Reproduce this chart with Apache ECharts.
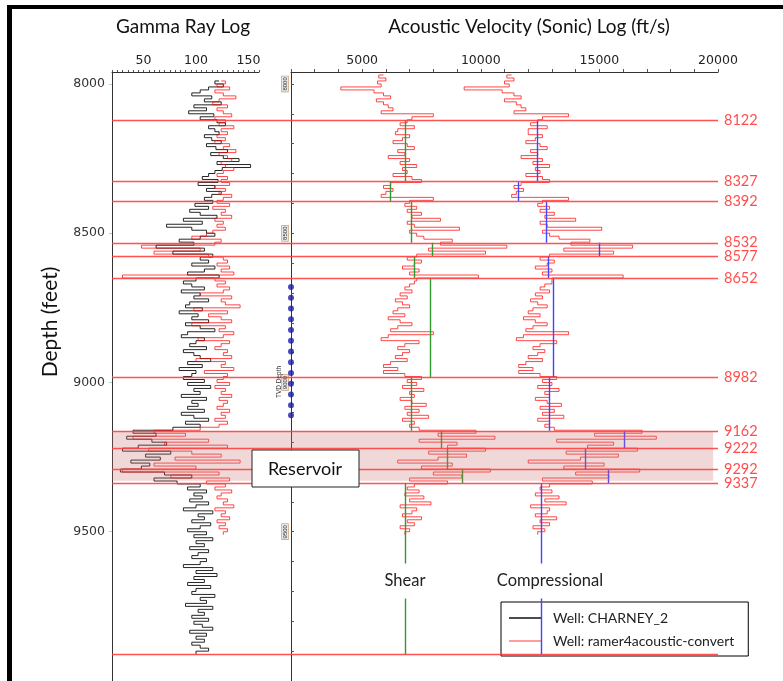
<!DOCTYPE html>
<html><head><meta charset="utf-8">
<script src="https://cdn.jsdelivr.net/npm/echarts@6/dist/echarts.min.js"></script>
<style>html,body{margin:0;padding:0;background:#fff}#c{width:783px;height:681px}</style>
</head><body><div id="c"></div><script>
// ---- data ----
const depthStep = 10;
const gammaStart = 7990;
const gammaBlack = [
122,118,126,112,104,96,115,108,124,98,
110,93,117,104,120,128,112,118,122,108,
115,124,110,119,130,114,126,141,120,152,
125,118,112,106,121,102,118,110,124,115,
108,116,99,112,94,104,120,88,106,72,
96,110,118,104,84,98,62,108,78,116,
104,112,96,118,108,92,122,100,88,96,
108,86,104,98,112,94,90,106,84,102,
96,112,90,104,118,92,86,108,100,94,
110,88,98,104,114,92,106,84,100,96,
88,108,92,114,98,104,86,110,96,102,
92,108,86,98,112,90,104,78,40,62,
34,58,72,45,30,76,52,66,38,56,
48,28,70,96,60,82,104,92,110,98,
106,94,112,100,88,116,102,108,96,114,
104,92,110,98,116,100,108,94,112,102,
96,110,104,88,116,100,120,98,108,92,
114,100,96,118,104,110,90,116,102,108,
96,112,98,106,116,94,110,100,108,96,
104,112,100];
const gammaRed = [
124,128,120,132,118,126,138,122,116,130,
120,126,134,118,128,122,136,124,130,120,
128,118,132,126,138,122,130,134,124,128,
136,126,120,130,124,132,118,128,122,134,
126,120,132,116,128,124,134,118,126,120,
128,116,110,96,124,118,48,104,60,112,
126,130,120,132,124,136,30,118,128,120,
132,126,104,134,124,128,142,98,130,112,
124,134,96,128,122,136,126,102,132,124,
118,130,126,134,100,128,124,136,108,130,
126,120,132,118,128,124,134,122,130,126,
120,132,124,128,118,130,122,104,60,90,
40,112,70,130,55,96,124,80,142,60,
100,30,122,76,132,110,128,118,134,124,
120,130,126,136,118,128,124,132,120,128,
122,130,126];
const sonicStart = 7970;
const shearVel = [
5900,5700,6000,5650,5800,4100,5500,5900,6200,5600,
5900,6100,6300,5800,8000,7100,6900,6600,7200,6500,
6400,7000,6700,6300,6900,7200,6500,6800,6100,7000,
6600,7300,6700,6900,6300,7100,7500,6200,5900,6300,
6000,5800,8000,7000,6800,7300,6900,7500,7100,8300,
6900,7200,9100,7000,7300,7600,8800,8300,11100,7800,
10200,7300,6900,7500,7200,6700,7400,7000,9900,7300,
7200,7000,6800,7100,6600,6900,6400,6700,7000,6500,
6300,6800,6100,6600,7100,6500,6200,8000,6100,5800,
7400,6800,6500,7000,6700,6400,6900,6200,5900,6500,
5900,6800,7500,6900,7300,6700,7600,7000,7200,6600,
7100,7700,6800,7400,6900,7800,6700,7200,7000,7400,
9800,8200,10600,7400,9000,8600,10200,7800,9400,8200,
6500,8800,7500,10400,8000,9200,7000,8600,7200,6900,
7400,6800,7600,7000,7900,6600,7300,7100,6700,7500,
6900,7200,6600,7000,6800];
const compVel = [
11300,11100,11400,11000,11200,9300,10900,11400,11700,11000,
11500,11700,11900,11400,13700,12600,12400,12100,12800,12000,
12000,12600,12300,11900,12500,12800,12100,12400,11700,12600,
12200,12900,12300,12500,11900,12600,12900,11700,11400,11800,
11500,11300,13700,12600,12400,12900,12500,13100,12700,14000,
12500,12800,15100,12600,12900,13300,14600,13800,16400,13500,
15600,12900,12500,13100,12800,12300,13000,12600,16000,13000,
13000,12700,12500,12900,12300,12600,12100,12400,12800,12200,
12000,12500,11800,12300,12800,12200,11900,13700,11800,11500,
13200,12500,12200,12700,12400,12000,12600,11900,11600,12200,
11600,12500,13200,12600,13000,12400,13300,12700,12900,12300,
12800,13400,12500,13100,12600,13500,12400,12900,12700,13100,
16800,14800,17400,13200,15600,14500,16600,13600,15800,14200,
12000,15200,13500,16700,14000,15400,12600,14700,12900,12500,
13000,12300,13300,12700,13600,12100,12900,12800,12300,13200,
12500,12900,12200,12700,12400];
const formationTops = [8122,8327,8392,8532,8577,8652,8982,9162,9222,9292,9337];
const baseHorizon = 9911;
const zoneBounds = [8122,8327,8392,8532,8577,8652,8982,9162,9222,9292,9337,9911];
const shearAvg = [6800,6200,7090,7970,7200,7850,7090,8350,8600,9240,6800];
const compAvg = [12360,11600,12780,14980,12830,13040,12900,16030,14390,15360,12530];
const reservoirTop = 9164, reservoirBase = 9329;
const tvdDots = [8680,8716,8752,8788,8824,8860,8896,8932,8968,9004,9040,9076,9110];
const gammaLabels = [50,100,150];
const sonicLabels = [5000,10000,15000,20000];
const depthLabels = [8000,8500,9000,9500];

// ---- build ----
const depthMin = 7960, depthMax = 10000;
const pts = (arr, start) => arr.map((v, i) => [v, start + i * depthStep]);
const gammaMinorTicks = []; for (let t = 20; t <= 160; t += 5) gammaMinorTicks.push(t);
const sonicMinorTicks = []; for (let t = 2000; t <= 20000; t += 1000) sonicMinorTicks.push(t);
const depthMinorTicks = []; for (let t = 8000; t <= 9900; t += 100) depthMinorTicks.push(t);
const RED = 'rgba(255,0,0,0.72)';
const WELL1 = 'Well: CHARNEY_2', WELL2 = 'Well: ramer4acoustic-convert';
const labelFont = 'DejaVu Sans';
const textFont = 'Lato';
const plain = v => String(v);

const chart = echarts.init(document.getElementById('c'));
const gridTop = 72, gridH = 620;
chart.setOption({
  animation: false,
  grid: [
    {left: 112, top: gridTop, width: 147, height: gridH},
    {left: 291, top: gridTop, width: 427, height: gridH},
    {left: 112, top: gridTop, width: 606, height: gridH}
  ],
  xAxis: [
    {gridIndex: 0, type: 'value', position: 'top', min: 20, max: 160,
     axisLine: {lineStyle: {color: '#333', width: 1}},
     axisTick: {customValues: gammaMinorTicks, length: 2, lineStyle: {color: '#555'}},
     axisLabel: {customValues: gammaLabels, formatter: plain, fontFamily: labelFont, fontSize: 12.5, color: '#222', margin: 5},
     splitLine: {show: false}},
    {gridIndex: 1, type: 'value', position: 'top', min: 2000, max: 20000,
     axisLine: {lineStyle: {color: '#333', width: 1}},
     axisTick: {customValues: sonicMinorTicks, length: 3, lineStyle: {color: '#555'}},
     axisLabel: {customValues: sonicLabels, formatter: plain, fontFamily: labelFont, fontSize: 12.5, color: '#222', margin: 5},
     splitLine: {show: false}},
    {gridIndex: 2, type: 'value', min: 0, max: 1, show: false}
  ],
  yAxis: [
    {gridIndex: 0, type: 'value', inverse: true, min: depthMin, max: depthMax,
     axisLine: {show: true, lineStyle: {color: '#333', width: 1}},
     axisTick: {show: true, customValues: depthLabels, length: 3, lineStyle: {color: '#9cd6dc'}},
     axisLabel: {customValues: depthLabels, formatter: plain, fontFamily: labelFont, fontSize: 12.5, color: '#333', margin: 7},
     splitLine: {show: false}},
    {gridIndex: 1, type: 'value', inverse: true, min: depthMin, max: depthMax,
     axisLine: {show: true, lineStyle: {color: '#333', width: 1}},
     axisTick: {show: true, inside: true, customValues: depthMinorTicks, length: 3, lineStyle: {color: '#555'}},
     axisLabel: {customValues: depthLabels, formatter: plain, rotate: 90, fontSize: 6, color: '#333', margin: 3,
                 backgroundColor: '#e8e8e8', borderColor: '#c08a50', borderWidth: 0.6, padding: [0, 1]},
     splitLine: {show: false}},
    {gridIndex: 2, type: 'value', inverse: true, min: depthMin, max: depthMax, show: false}
  ],
  legend: {
    left: 501, top: 602, orient: 'vertical', itemGap: 9,
    padding: [9, 14, 8, 8], borderColor: '#000', borderWidth: 1, backgroundColor: '#fff',
    itemWidth: 33, itemHeight: 1.5, icon: 'rect',
    textStyle: {fontFamily: textFont, fontSize: 14, color: '#222', padding: [0, 0, 0, 6]},
    data: [WELL1, WELL2]
  },
  series: [
    {name: WELL1, type: 'line', xAxisIndex: 0, yAxisIndex: 0, step: 'end', symbol: 'none',
     data: pts(gammaBlack, gammaStart), lineStyle: {color: 'rgba(0,0,0,0.85)', width: 1},
     itemStyle: {color: '#111'}, z: 3},
    {name: WELL2, type: 'line', xAxisIndex: 0, yAxisIndex: 0, step: 'end', symbol: 'none',
     data: pts(gammaRed, gammaStart), lineStyle: {color: RED, width: 1},
     itemStyle: {color: 'rgba(255,70,70,0.7)'}, z: 4},
    {name: WELL2, type: 'line', xAxisIndex: 1, yAxisIndex: 1, step: 'end', symbol: 'none',
     data: pts(shearVel, sonicStart), lineStyle: {color: RED, width: 1},
     itemStyle: {color: 'rgba(255,70,70,0.7)'}, z: 4},
    {name: WELL2, type: 'line', xAxisIndex: 1, yAxisIndex: 1, step: 'end', symbol: 'none',
     data: pts(compVel, sonicStart), lineStyle: {color: RED, width: 1},
     itemStyle: {color: 'rgba(255,70,70,0.7)'}, z: 4},
    {type: 'lines', coordinateSystem: 'cartesian2d', xAxisIndex: 1, yAxisIndex: 1, z: 5,
     data: shearAvg.map((v, i) => ({coords: [[v, zoneBounds[i]], [v, zoneBounds[i + 1]]]})),
     lineStyle: {color: '#2f9a2f', width: 1.4, opacity: 1}},
    {type: 'lines', coordinateSystem: 'cartesian2d', xAxisIndex: 1, yAxisIndex: 1, z: 5,
     data: compAvg.map((v, i) => ({coords: [[v, zoneBounds[i]], [v, zoneBounds[i + 1]]]})),
     lineStyle: {color: '#4444ff', width: 1.4, opacity: 1}},
    {type: 'scatter', xAxisIndex: 1, yAxisIndex: 1, symbol: 'circle', symbolSize: 6, clip: false, z: 6,
     data: tvdDots.map(d => [2000, d]), itemStyle: {color: '#1c1caa'}},
    {type: 'custom', xAxisIndex: 2, yAxisIndex: 2, z: 7, silent: true,
     data: [[0, reservoirTop, 0.992, reservoirBase]],
     encode: {x: [0, 2], y: [1, 3]},
     renderItem: (params, api) => {
       const a = api.coord([api.value(0), api.value(1)]);
       const b = api.coord([api.value(2), api.value(3)]);
       return {type: 'rect', shape: {x: a[0], y: a[1], width: b[0] - a[0], height: b[1] - a[1]},
               style: {fill: 'rgba(205,110,110,0.27)'}};
     }},
    {type: 'lines', coordinateSystem: 'cartesian2d', xAxisIndex: 2, yAxisIndex: 2, z: 8, clip: false,
     data: formationTops.map(d => ({name: String(d), coords: [[0, d], [1, d]]}))
       .concat([{name: '', coords: [[0, baseHorizon], [1, baseHorizon]], label: {show: false}}]),
     lineStyle: {color: '#ff4040', width: 1.3, opacity: 0.9}},
    {type: 'scatter', xAxisIndex: 2, yAxisIndex: 2, z: 8, clip: false, symbolSize: 0, silent: true,
     data: formationTops.map(d => [1, d]),
     label: {show: true, position: 'right', formatter: p => String(p.value[1]), color: '#ff2020',
             fontFamily: textFont, fontSize: 14.5, distance: 6}}
  ],
  graphic: [
    {type: 'rect', left: 7, top: 5, shape: {width: 5, height: 676}, style: {fill: '#000'}, z: 100},
    {type: 'rect', left: 7, top: 5, shape: {width: 776, height: 4}, style: {fill: '#000'}, z: 100},
    {type: 'text', x: 183, y: 27, style: {text: 'Gamma Ray Log', font: '19px Lato', fill: '#111',
      textAlign: 'center', textVerticalAlign: 'middle'}, z: 100},
    {type: 'text', x: 529, y: 27, style: {text: 'Acoustic Velocity (Sonic) Log (ft/s)', font: '19px Lato',
      fill: '#111', textAlign: 'center', textVerticalAlign: 'middle'}, z: 100},
    {type: 'text', x: 50, y: 322, rotation: Math.PI / 2, style: {text: 'Depth (feet)', font: '21px Lato',
      fill: '#111', textAlign: 'center', textVerticalAlign: 'middle'}, z: 100},
    {type: 'text', x: 279, y: 382, rotation: Math.PI / 2, style: {text: 'TVD Depth', font: '6.5px sans-serif',
      fill: '#333', textAlign: 'center', textVerticalAlign: 'middle'}, z: 100},
    {type: 'group', z: 100, children: [
      {type: 'rect', shape: {x: 252, y: 450, width: 107, height: 37}, style: {fill: '#fff', stroke: '#222', lineWidth: 1}, z: 100},
      {type: 'text', x: 305, y: 469, style: {text: 'Reservoir', font: '18px Lato', fill: '#111',
        textAlign: 'center', textVerticalAlign: 'middle'}, z: 101}
    ]},
    {type: 'text', x: 405, y: 581, style: {text: 'Shear', font: '16.5px Lato', fill: '#222',
      textAlign: 'center', textVerticalAlign: 'middle', backgroundColor: '#fff', padding: [9, 3]}, z: 100},
    {type: 'text', x: 550, y: 581, style: {text: 'Compressional', font: '16.5px Lato', fill: '#222',
      textAlign: 'center', textVerticalAlign: 'middle', backgroundColor: '#fff', padding: [9, 3]}, z: 100}
  ]
});
</script></body></html>
